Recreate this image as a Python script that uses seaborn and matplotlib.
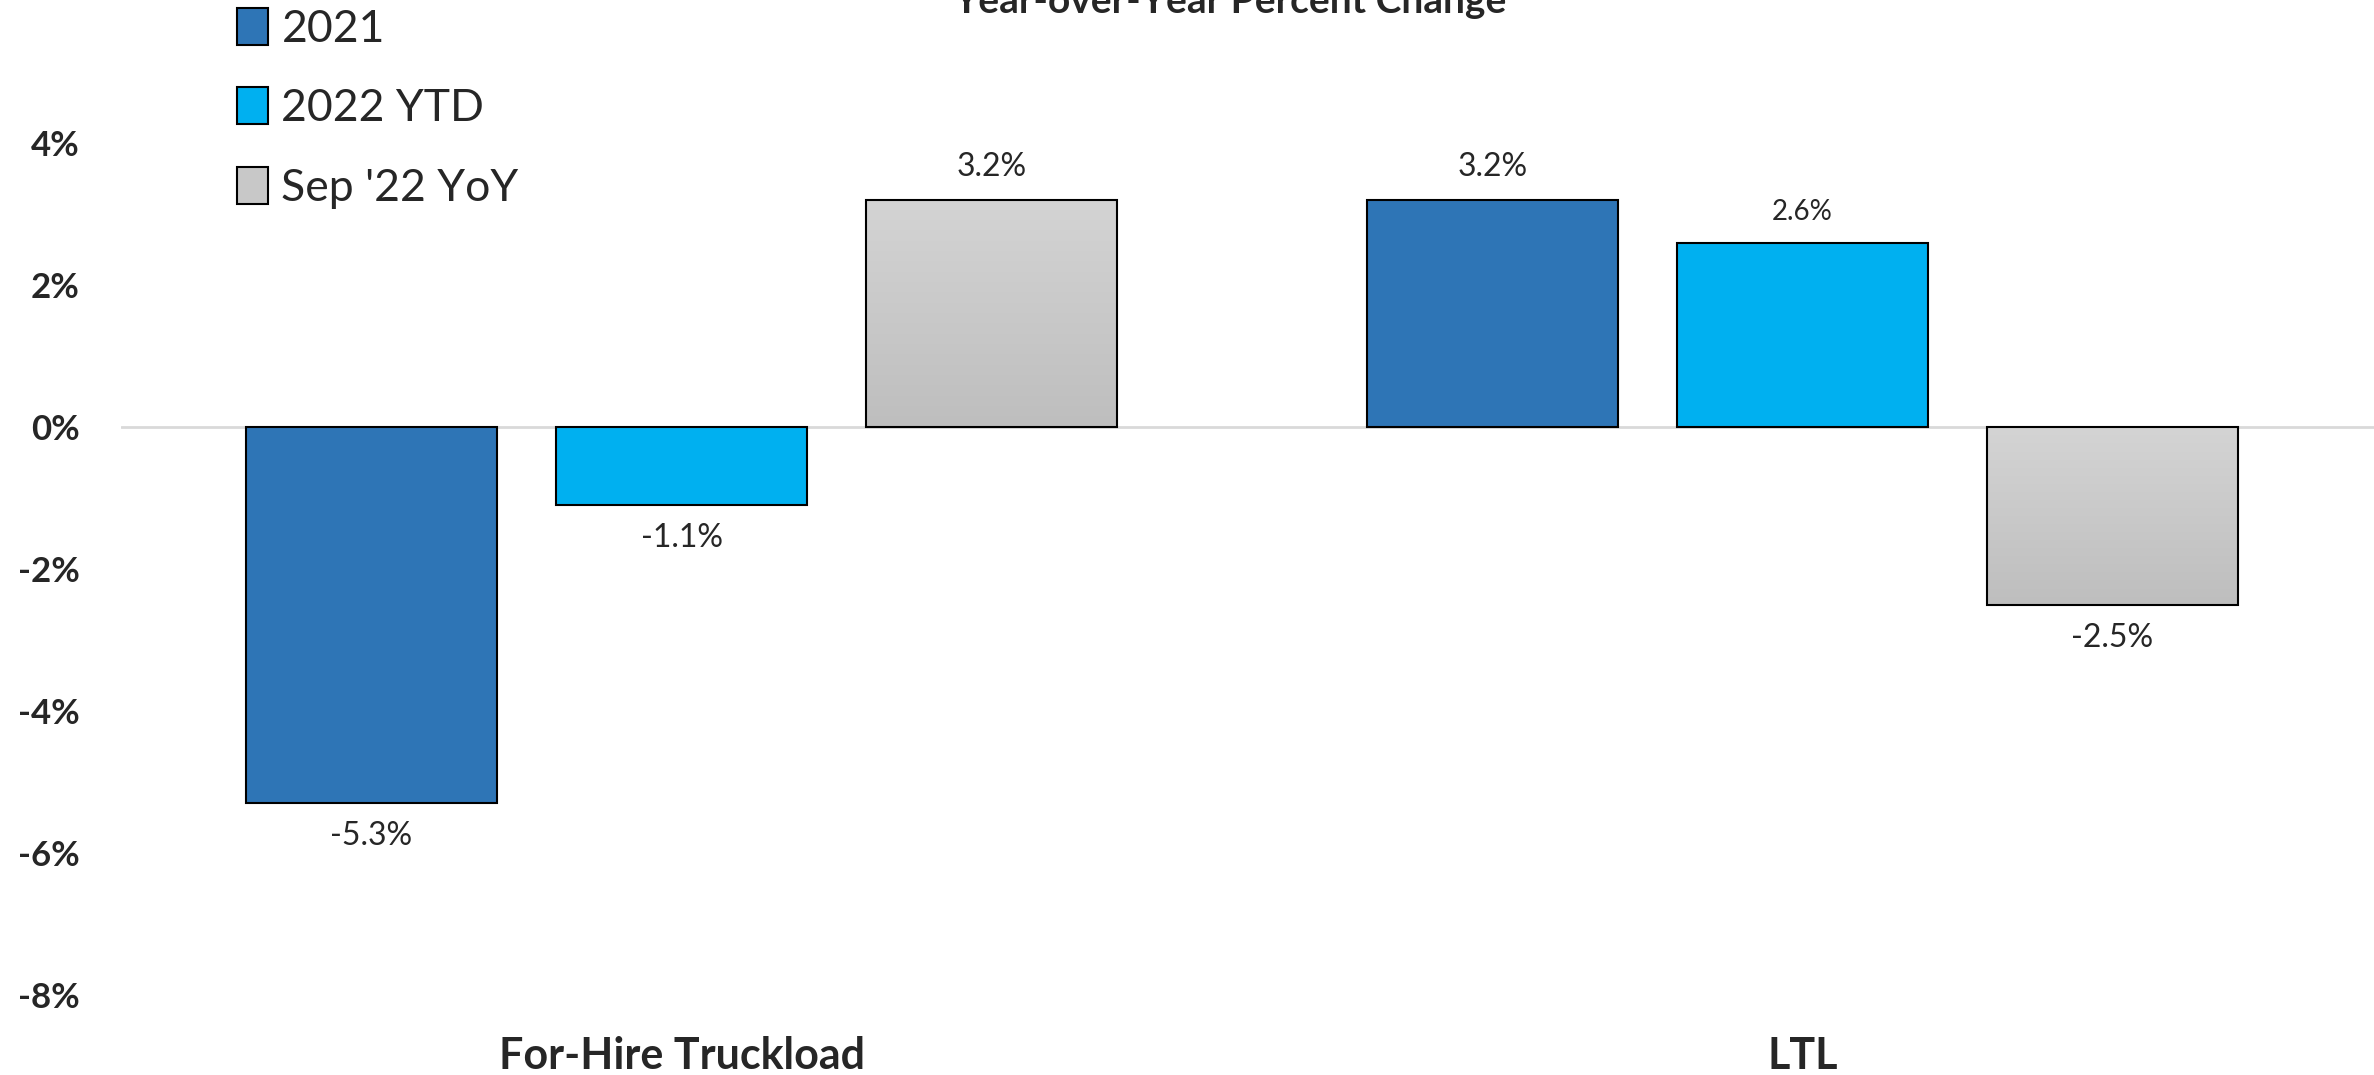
import numpy as np
import pandas as pd
import seaborn as sns
import matplotlib.pyplot as plt
from matplotlib.colors import LinearSegmentedColormap
from matplotlib.patches import Patch

# chart values (percent change, year over year)
categories = ['For-Hire Truckload', 'LTL']
series = ['2021', '2022 YTD', "Sep '22 YoY"]
vals_2021 = [-5.3, 3.2]
vals_2022_ytd = [-1.1, 2.6]
vals_sep22 = [3.2, -2.5]
yticks = [-8, -6, -4, -2, 0, 2, 4]

colors = ['#2E75B6', '#00B0F0', '#C8C8C8']

df = pd.DataFrame({
    'category': categories * 3,
    'series': [s for s in series for _ in categories],
    'value': vals_2021 + vals_2022_ytd + vals_sep22,
})

sns.set_style('white')
plt.rcParams['font.family'] = ['Lato', 'DejaVu Sans']

fig = plt.figure(figsize=(23.74, 10.75), dpi=100)
ax = fig.add_axes([0.051, 0.0746, 0.949, 0.924])

sns.barplot(data=df, x='category', y='value', hue='series', hue_order=series,
            palette=colors, saturation=1, width=0.83, gap=0.19, edgecolor='black',
            linewidth=1.5, legend=False, ax=ax)

# gradient fill for the gray series
grad = np.linspace(0, 1, 256).reshape(-1, 1)
gray_cmap = LinearSegmentedColormap.from_list('g', ['#D4D4D4', '#BEBEBE'])
for bar in ax.containers[2]:
    x0, y0 = bar.get_x(), bar.get_y()
    w, h = bar.get_width(), bar.get_height()
    top, bot = max(y0, y0 + h), min(y0, y0 + h)
    im = ax.imshow(grad, cmap=gray_cmap, extent=[x0, x0 + w, bot, top],
                   aspect='auto', origin='upper', zorder=bar.get_zorder())
    im.set_clip_path(bar)
    bar.set_facecolor('none')
    bar.set_zorder(bar.get_zorder() + 0.1)

# data labels
for i, cont in enumerate(ax.containers):
    vals = df[df['series'] == series[i]]['value'].tolist()
    labs = ax.bar_label(cont, labels=[f'{v:.1f}%' for v in vals], padding=13, fontsize=23)
    for v, t in zip(vals, labs):
        if v == 2.6:
            t.set_fontsize(20)

ax.axhline(0, color='#D9D9D9', linewidth=2, zorder=0)
ax.set_ylim(-8, 6)
ax.set_xlim(-0.5, 1.51)
ax.set_yticks(yticks)
ax.set_yticklabels([f'{t}%' for t in yticks], fontsize=25, fontweight='bold')
ax.set_xticks([0, 1])
ax.set_xticklabels(categories, fontsize=31, fontweight='bold')
ax.tick_params(axis='x', length=0, pad=30)
ax.tick_params(axis='y', length=0, pad=30)
ax.set_xlabel('')
ax.set_ylabel('')
sns.despine(ax=ax, left=True, bottom=True)

# title sits mostly above the cropped top edge, as in the source image
fig.text(0.518, 0.999, 'Year-over-Year Percent Change', ha='center', va='center',
         fontsize=28, fontweight='bold')

handles = [Patch(facecolor=c, edgecolor='black', linewidth=1.5) for c in colors]
ax.legend(handles, series, loc='upper left', bbox_to_anchor=(0.083, 1.03),
          bbox_transform=fig.transFigure, frameon=False, fontsize=32,
          handlelength=0.7, handleheight=0.9, handletextpad=0.3, labelspacing=0.85)

fig.savefig('out.png', dpi=100)
